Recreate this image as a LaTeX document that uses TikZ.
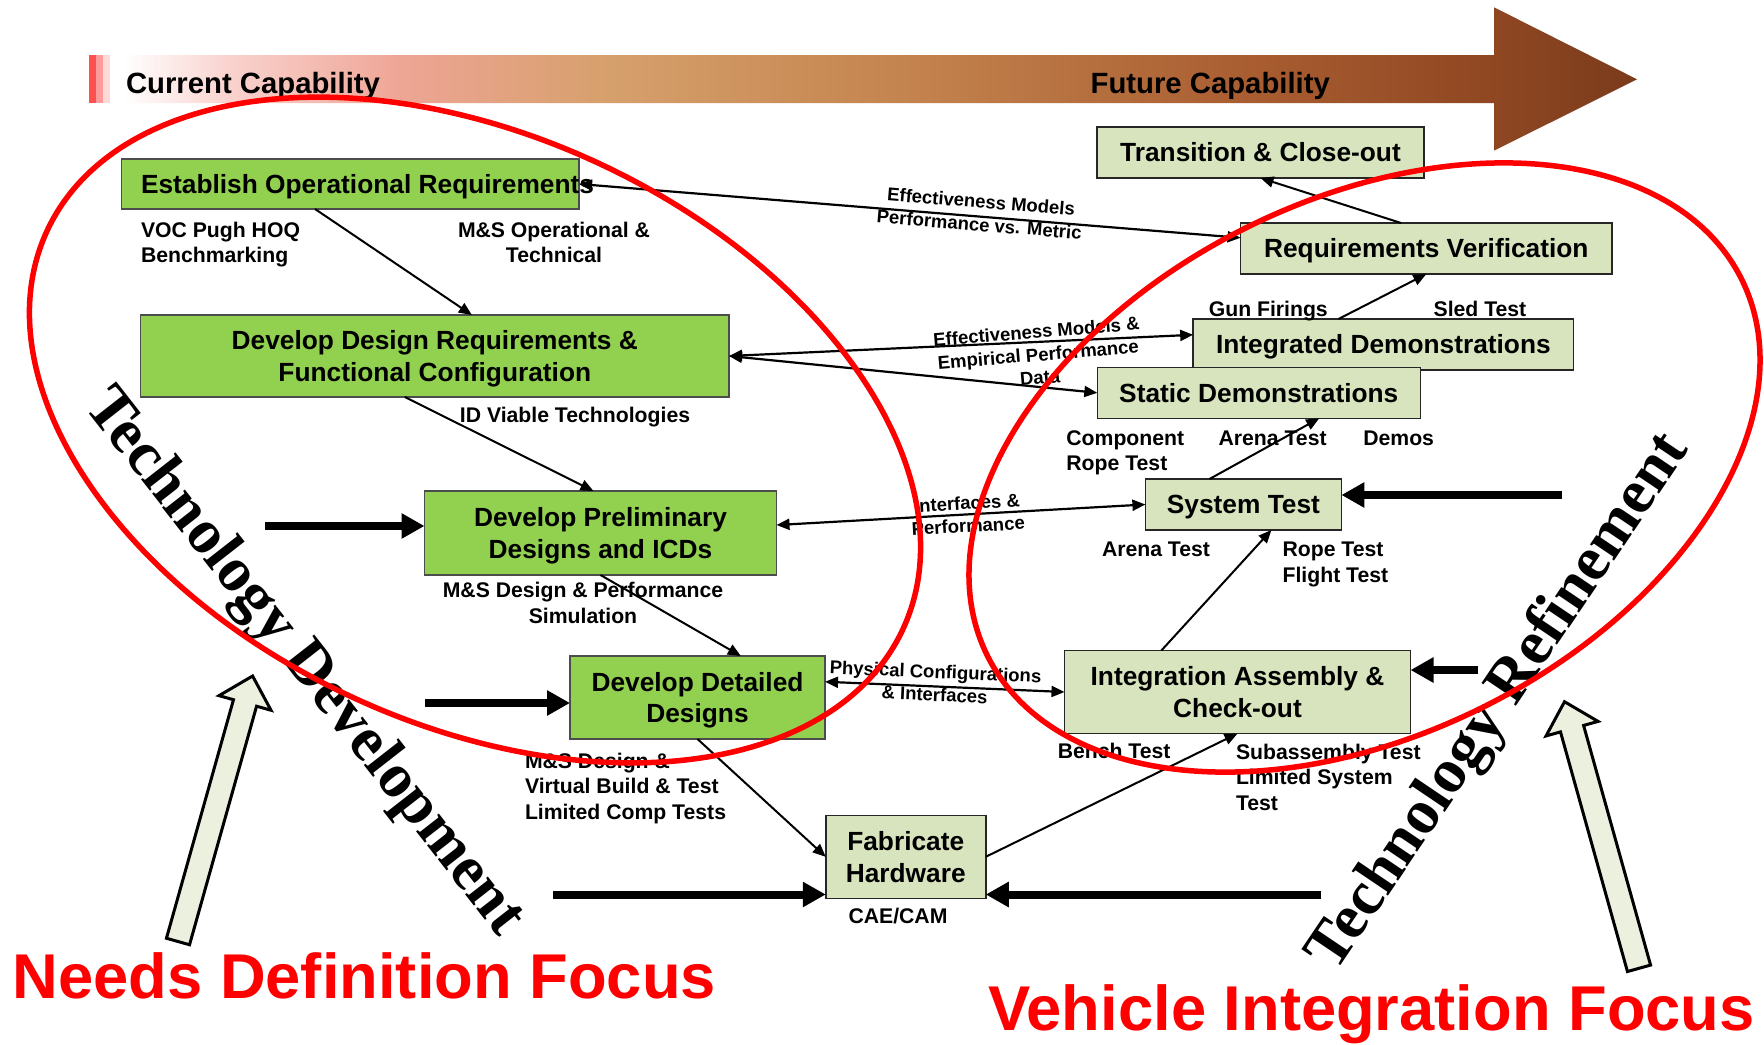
\documentclass[tikz,border=0pt]{standalone}
\usepackage{fontspec}
\setmainfont{Liberation Sans}
\newfontfamily\serifbold{Liberation Serif}
\usetikzlibrary{arrows.meta,calc}

\definecolor{boxgreen}{HTML}{92D050}
\definecolor{boxlight}{HTML}{D7E4BD}
\definecolor{hollowfill}{HTML}{EBF1DE}
\definecolor{barA}{HTML}{FF5050}
\definecolor{barB}{HTML}{FF9A9A}
\definecolor{barC}{HTML}{FFD8D8}
\definecolor{bnA}{HTML}{FFFFFF}
\definecolor{bnB}{HTML}{F9D2CE}
\definecolor{bnC}{HTML}{EEA595}
\definecolor{bnD}{HTML}{D6A06C}
\definecolor{bnE}{HTML}{C4844F}
\definecolor{bnF}{HTML}{A85C30}
\definecolor{bnG}{HTML}{8F4722}
\definecolor{bnH}{HTML}{7A3B1C}
\definecolor{ringred}{HTML}{FF0000}

\pgfdeclarehorizontalshading{bannershade}{100bp}{
 color(0bp)=(bnA); color(25bp)=(bnA); color(28.5bp)=(bnB); color(34.2bp)=(bnC);
 color(41bp)=(bnD); color(50.7bp)=(bnE); color(62.6bp)=(bnF); color(70.3bp)=(bnG);
 color(75bp)=(bnH); color(100bp)=(bnH)}

\newcommand\bxfont{\fontsize{26.3}{31.6}\selectfont\bfseries}
\newcommand\sbfont{\fontsize{21.2}{25.6}\selectfont\bfseries}
\newcommand\elfont{\fontsize{18.5}{23}\selectfont\bfseries}
\newcommand\bnfont{\fontsize{29.3}{34}\selectfont\bfseries}
\newcommand\bigrfont{\fontsize{63.3}{70}\selectfont\bfseries}
\newcommand\tchfont{\fontsize{63}{70}\selectfont\serifbold\bfseries}

\begin{document}
\begin{tikzpicture}[x=1pt,y=-1pt,
  every node/.style={inner sep=0pt, outer sep=0pt},
  gbox/.style={draw=black!70, line width=1.5pt, fill=boxgreen, font=\bxfont, align=center},
  lbox/.style={draw=black!85, line width=1.5pt, fill=boxlight, font=\bxfont, align=center},
  oneline/.style={text height=18.8pt, text depth=0pt},
  twoline/.style={text height=50.4pt, text depth=0pt},
  sub/.style={font=\sbfont, align=left},
  elab/.style={font=\elfont, align=center, sloped},
  conn/.style={line width=2pt, -{Triangle[length=13pt,width=11pt]}},
  dconn/.style={line width=2.2pt, {Triangle[length=13pt,width=11pt]}-{Triangle[length=13pt,width=11pt]}},
  fat/.style={line width=8pt, -{Triangle[length=23pt,width=24pt]}},
  hollow/.style={draw=black, line width=3pt, fill=hollowfill, line join=miter},
  ring/.style={draw=ringred, line width=5.5pt},
]
\useasboundingbox (0,0) rectangle (1764,1044);
\fill[white] (0,0) rectangle (1764,1044);

% banner
\fill[barA] (89,55) rectangle (96,102.5);
\fill[barB] (96,55) rectangle (102.7,102.5);
\fill[barC] (102.7,55) rectangle (110,102.5);
\shade[shading=bannershade] (123,55) -- (1494,55) -- (1494,7.3) -- (1637,79.3) -- (1494,150.7) -- (1494,103) -- (123,103) -- cycle;
\node[font=\bnfont, anchor=base west] (cur) at (126,93.3) {Current Capability};
\node[font=\bnfont, anchor=base west] (fut) at (1090.6,93.3) {Future Capability};

% boxes
\node[gbox, oneline, minimum width=457.5pt, minimum height=50pt] (est) at (350.25,184) {\makebox[457.5pt][l]{\hspace{19.5pt}Establish Operational Requirements}};
\node[gbox, twoline, minimum width=588.4pt, minimum height=82pt] (ddr) at (434.8,356) {Develop Design Requirements \&\\Functional Configuration};
\node[gbox, twoline, minimum width=352pt, minimum height=84pt] (pre) at (600.5,533) {Develop Preliminary\\Designs and ICDs};
\node[gbox, twoline, minimum width=255pt, minimum height=83pt] (det) at (697.5,697.5) {Develop Detailed\\Designs};
\node[lbox, twoline, minimum width=160pt, minimum height=83pt] (fab) at (905.75,856.8) {Fabricate\\Hardware};
\node[lbox, twoline, minimum width=346pt, minimum height=83pt] (int) at (1237.5,692) {Integration Assembly \&\\Check-out};
\node[lbox, oneline, minimum width=196pt, minimum height=51pt] (sys) at (1243.4,504.5) {System Test};
\node[lbox, oneline, minimum width=380.5pt, minimum height=51pt] (ind) at (1383.4,344.5) {Integrated Demonstrations};
\node[lbox, oneline, minimum width=323pt, minimum height=51pt] (sta) at (1258.8,392.8) {Static Demonstrations};
\node[lbox, oneline, minimum width=371.5pt, minimum height=51pt] (rv) at (1426.3,248.5) {Requirements Verification};
\node[lbox, oneline, minimum width=327pt, minimum height=51pt] (tc) at (1260.5,152.5) {Transition \& Close-out};

% thin connectors
\draw[conn] ($(est.south west)!0.423!(est.south east)$) -- ($(ddr.north west)!0.563!(ddr.north east)$);
\draw[conn] ($(ddr.south west)!0.449!(ddr.south east)$) -- ($(pre.north west)!0.48!(pre.north east)$);
\draw[conn] (pre.south) -- ($(det.north west)!0.67!(det.north east)$);
\draw[conn] (det.south) -- (fab.west);
\draw[conn] (fab.east) -- (int.south);
\draw[conn] ($(int.north west)!0.28!(int.north east)$) -- ($(sys.south west)!0.643!(sys.south east)$);
\draw[conn] ($(sys.north west)!0.327!(sys.north east)$) -- ($(sta.south west)!0.687!(sta.south east)$);
\draw[conn] ($(ind.north west)!0.382!(ind.north east)$) -- (rv.south);
\draw[conn] ($(rv.north west)!0.432!(rv.north east)$) -- (tc.south);

% double connectors with labels
\draw[dconn] (est.east) -- ($(rv.north west)!0.29!(rv.south west)$)
  node[elab, pos=0.606, yshift=3.6pt] (lj) {Effectiveness Models\\Performance vs. Metric};
\draw[dconn] (ddr.east) -- ($(ind.north west)!0.31!(ind.south west)$)
  node[font=\elfont, align=center, pos=0.664, rotate=4.7, yshift=-12.6pt] (lk) {Effectiveness Models \&\\Empirical Performance\\Data};
\draw[dconn] (ddr.east) -- (sta.west);
\draw[dconn] ($(pre.north east)!0.405!(pre.south east)$) -- (sys.west)
  node[elab, pos=0.518] (lm) {Interfaces \&\\Performance};
\draw[dconn] ($(det.north east)!0.31!(det.south east)$) -- (int.west)
  node[elab, pos=0.459, yshift=3.3pt] (ln) {Physical Configurations\\\& Interfaces};

% fat arrows
\coordinate (f1) at (265,526);
\coordinate (f2) at (425,703);
\coordinate (f3) at (553,894.5);
\coordinate (f4) at (1321,894.5);
\coordinate (f5) at (1478,670);
\coordinate (f6) at (1562,495);
\draw[fat] (f1) -- (f1 -| pre.west);
\draw[fat] (f2) -- (f2 -| det.west);
\draw[fat] (f3) -- (f3 -| fab.west);
\draw[fat] (f4) -- (f4 -| fab.east);
\draw[fat] (f5) -- (f5 -| int.east);
\draw[fat] (f6) -- (f6 -| sys.east);

% sub labels (anchor base = baseline of last line)
\node[sub, anchor=base west] (s1) at (141,262.9) {VOC Pugh HOQ\\Benchmarking};
\node[sub, align=center, anchor=base] (s2) at (554,262.9) {M\&S Operational \&\\Technical};
\node[sub, anchor=base] (s3) at (575,422.7) {ID Viable Technologies};
\node[sub, align=center, anchor=base] (s4) at (583,623.5) {M\&S Design \& Performance\\Simulation};
\node[sub, anchor=base west] (s5) at (525,819.5) {M\&S Design \&\\Virtual Build \& Test\\Limited Comp Tests};
\node[sub, anchor=base] (s6) at (898,923.3) {CAE/CAM};
\node[sub, anchor=base west] (s7) at (1057.8,758.3) {Bench Test};
\node[sub, anchor=base west] (s8) at (1236,810.5) {Subassembly Test\\Limited System\\Test};
\node[sub, anchor=base west] (s9) at (1102,556.7) {Arena Test};
\node[sub, anchor=base west] (s10) at (1282.6,582) {Rope Test\\Flight Test};
\node[sub, anchor=base west] (s11) at (1066.4,470.7) {Component\\Rope Test};
\node[sub, anchor=base west] (s12) at (1218.6,445) {Arena Test};
\node[sub, anchor=base west] (s13) at (1363.3,445) {Demos};
\node[sub, anchor=base west] (s14) at (1208.8,316.7) {Gun Firings};
\node[sub, anchor=base west] (s15) at (1433.6,316.7) {Sled Test};

% hollow arrows
\coordinate (ltip) at (252.6,676);
\coordinate (ltail) at (178,941.5);
\coordinate (lbase) at ($(ltip)!28pt!(ltail)$);
\draw[hollow] ($(ltail)!12pt!90:(ltip)$) -- ($(lbase)!12pt!90:(ltip)$) -- ($(lbase)!27pt!90:(ltip)$) -- (ltip) -- ($(lbase)!27pt!-90:(ltip)$) -- ($(lbase)!12pt!-90:(ltip)$) -- ($(ltail)!12pt!-90:(ltip)$) -- cycle;
\coordinate (rtip) at (1564.5,701.7);
\coordinate (rtail) at (1639,968.3);
\coordinate (rbase) at ($(rtip)!28pt!(rtail)$);
\draw[hollow] ($(rtail)!12pt!90:(rtip)$) -- ($(rbase)!12pt!90:(rtip)$) -- ($(rbase)!27pt!90:(rtip)$) -- (rtip) -- ($(rbase)!27pt!-90:(rtip)$) -- ($(rbase)!12pt!-90:(rtip)$) -- ($(rtail)!12pt!-90:(rtip)$) -- cycle;

% big texts
\node[font=\bigrfont, text=ringred, anchor=base west] (ndf) at (12.6,998.3) {Needs Definition Focus};
\node[font=\bigrfont, text=ringred, anchor=base west] (vif) at (988,1030) {Vehicle Integration Focus};
\node[font=\tchfont, rotate=-52] (tdev) at (303,663) {Technology Development};
\node[font=\tchfont, rotate=56] (tref) at (1500,703) {Technology Refinement};

% red rings
\draw[ring, rotate around={-25:(475,430)}] (475,430) ellipse [x radius=472pt, y radius=294pt];
\draw[ring, rotate around={26.6:(1364.5,467.5)}] (1364.5,467.5) ellipse [x radius=421.5pt, y radius=267.4pt];
\end{tikzpicture}
\end{document}
